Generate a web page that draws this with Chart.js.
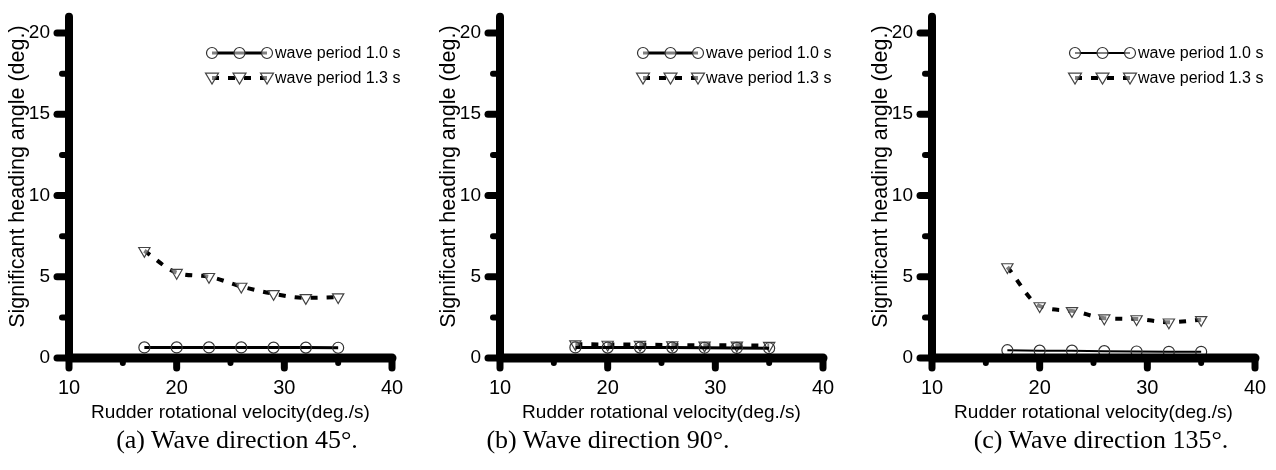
<!DOCTYPE html>
<html>
<head>
<meta charset="utf-8">
<script src="https://cdn.jsdelivr.net/npm/chart.js@4.4.1/dist/chart.umd.min.js"></script>
<style>
  body { margin: 0; background: #fff; width: 1276px; height: 470px; position: relative; overflow: hidden; }
  .panel { position: absolute; top: 0; width: 431px; height: 470px; }
  .cap { position: absolute; top: 425px; font: 26px "Liberation Serif", "Times New Roman", serif; color: #000;
         transform: translateX(-50%); white-space: nowrap; }
</style>
</head>
<body>
<div class="panel" style="left:0"><canvas id="c1" width="431" height="470"></canvas></div>
<div class="panel" style="left:431px"><canvas id="c2" width="431" height="470"></canvas></div>
<div class="panel" style="left:863px"><canvas id="c3" width="431" height="470"></canvas></div>
<div class="cap" id="cap1" style="left:237px"></div>
<div class="cap" id="cap2" style="left:608px"></div>
<div class="cap" id="cap3" style="left:1101px"></div>
<script>
// rudder rotational velocity (deg./s)
var rudderSpeeds = [17, 20, 23, 26, 29, 32, 35];

// significant heading angle (deg.)
var dir45_T10 = [0.65, 0.65, 0.65, 0.65, 0.64, 0.64, 0.63];
var dir45_T13 = [6.6, 5.25, 5.0, 4.4, 3.95, 3.7, 3.75];
var dir90_T10 = [0.65, 0.64, 0.64, 0.64, 0.63, 0.62, 0.6];
var dir90_T13 = [0.86, 0.83, 0.82, 0.8, 0.78, 0.78, 0.76];
var dir135_T10 = [0.48, 0.45, 0.45, 0.42, 0.4, 0.38, 0.38];
var dir135_T13 = [5.6, 3.2, 2.9, 2.45, 2.4, 2.2, 2.35];

var yTickValues = [0, 5, 10, 15, 20];
var xTickValues = [10, 20, 30, 40];

var seriesLabels = ['wave period 1.0 s', 'wave period 1.3 s'];
var captions = ['(a) Wave direction 45\u00b0.', '(b) Wave direction 90\u00b0.', '(c) Wave direction 135\u00b0.'];
var xTitle = 'Rudder rotational velocity(deg./s)';
var yTitle = '\u2002\u2002Significant heading angle (deg.)';

var font = '"Liberation Sans", Arial, sans-serif';

function marker(ctx, style, x, y, r) {
  ctx.beginPath();
  if (style === 'circle') {
    ctx.arc(x, y, r, 0, Math.PI * 2);
  } else {
    ctx.moveTo(x - r, y - r * 0.75);
    ctx.lineTo(x + r, y - r * 0.75);
    ctx.lineTo(x, y + r * 0.95);
    ctx.closePath();
  }
  ctx.fill();
  ctx.stroke();
}

// thick axes with rounded tick stubs, drawn from the scales
var thickAxes = {
  id: 'thickAxes',
  afterDraw: function (chart) {
    var ctx = chart.ctx, xs = chart.scales.x, ys = chart.scales.y;
    var x0 = xs.getPixelForValue(xs.min), y0 = ys.getPixelForValue(0);
    ctx.save();
    ctx.strokeStyle = '#000';
    ctx.lineCap = 'round';
    function seg(ax, ay, bx, by, w) {
      ctx.lineWidth = w;
      ctx.beginPath(); ctx.moveTo(ax, ay); ctx.lineTo(bx, by); ctx.stroke();
    }
    seg(x0, ys.getPixelForValue(ys.max), x0, y0, 8);
    seg(x0, y0, xs.getPixelForValue(xs.max), y0, 9);
    ys.ticks.forEach(function (t) {
      var p = ys.getPixelForValue(t.value);
      seg(x0, p, x0 - 12, p, 7);
      if (t.value + 2.5 < ys.max) {
        var m = ys.getPixelForValue(t.value + 2.5);
        seg(x0, m, x0 - 7, m, 6);
      }
    });
    xs.ticks.forEach(function (t) {
      var p = xs.getPixelForValue(t.value);
      seg(p, y0, p, y0 + 10, 7);
      if (t.value + 5 < xs.max) {
        var m = xs.getPixelForValue(t.value + 5);
        seg(m, y0, m, y0 + 5, 6);
      }
    });
    ctx.restore();
  }
};

// legend with line samples like the original plot
var sampleLegend = {
  id: 'sampleLegend',
  afterDraw: function (chart) {
    var ctx = chart.ctx, right = chart.chartArea.right;
    var x1 = right - 180, x2 = right - 125;
    chart.data.datasets.forEach(function (ds, i) {
      var y = 53 + i * 25;
      ctx.save();
      ctx.strokeStyle = ds.borderColor;
      ctx.lineWidth = ds.borderWidth;
      ctx.setLineDash(ds.borderDash || []);
      ctx.beginPath(); ctx.moveTo(x1, y); ctx.lineTo(x2, y); ctx.stroke();
      ctx.setLineDash([]);
      ctx.strokeStyle = ds.pointBorderColor;
      ctx.fillStyle = 'rgba(255,255,255,0.5)';
      ctx.lineWidth = 1.2;
      [x1, (x1 + x2) / 2, x2].forEach(function (px) {
        marker(ctx, ds.pointStyle, px, y, ds.pointRadius);
      });
      ctx.fillStyle = '#000';
      ctx.font = '16px ' + font;
      ctx.textBaseline = 'middle';
      ctx.fillText(ds.label, x2 + 8, y + 1);
      ctx.restore();
    });
  }
};

function makeChart(id, solid, dashed, solidWidth) {
  return new Chart(document.getElementById(id), {
    type: 'line',
    data: {
      labels: rudderSpeeds,
      datasets: [{
        label: seriesLabels[0],
        data: solid,
        borderColor: '#000',
        borderWidth: solidWidth,
        pointStyle: 'circle',
        pointRadius: 5.5,
        pointBorderWidth: 1.2,
        pointBorderColor: '#333',
        pointBackgroundColor: 'rgba(255,255,255,0)',
        tension: 0
      }, {
        label: seriesLabels[1],
        data: dashed,
        borderColor: '#000',
        borderWidth: 4,
        borderDash: [7, 9],
        pointStyle: 'triangle',
        rotation: 180,
        pointRadius: 6.5,
        pointBorderWidth: 1.2,
        pointBorderColor: '#444',
        pointBackgroundColor: 'rgba(255,255,255,0.5)',
        cubicInterpolationMode: 'monotone'
      }]
    },
    options: {
      responsive: false,
      animation: false,
      layout: { padding: { top: 16.75, right: 39, left: 0, bottom: 0 } },
      plugins: { legend: { display: false }, tooltip: { enabled: false } },
      scales: {
        x: {
          type: 'linear', min: 10, max: 40,
          // tick marks are drawn by thickAxes; tickLength only spaces the labels
          grid: { display: false, drawTicks: true, tickLength: 18 },
          border: { display: false },
          ticks: { padding: 0, color: '#000', font: { family: font, size: 20 } },
          afterBuildTicks: function (s) { s.ticks = xTickValues.map(function (v) { return { value: v }; }); },
          title: { display: true, text: xTitle, color: '#000', font: { family: font, size: 19 }, padding: { top: 0, bottom: 46 } },
          afterFit: function (s) { s.height = 112; }
        },
        y: {
          min: 0, max: 21,
          grid: { display: false, drawTicks: true, tickLength: 19 },
          border: { display: false },
          ticks: { padding: 0, color: '#000', font: { family: font, size: 19 } },
          afterBuildTicks: function (s) { s.ticks = yTickValues.map(function (v) { return { value: v }; }); },
          title: { display: true, text: yTitle, color: '#000', font: { family: font, size: 21.5 }, padding: { top: 5, bottom: 0 } },
          afterFit: function (s) { s.width = 69; }
        }
      }
    },
    plugins: [thickAxes, sampleLegend]
  });
}

makeChart('c1', dir45_T10, dir45_T13, 3);
makeChart('c2', dir90_T10, dir90_T13, 3);
makeChart('c3', dir135_T10, dir135_T13, 2);

document.getElementById('cap1').textContent = captions[0];
document.getElementById('cap2').textContent = captions[1];
document.getElementById('cap3').textContent = captions[2];
</script>
</body>
</html>
